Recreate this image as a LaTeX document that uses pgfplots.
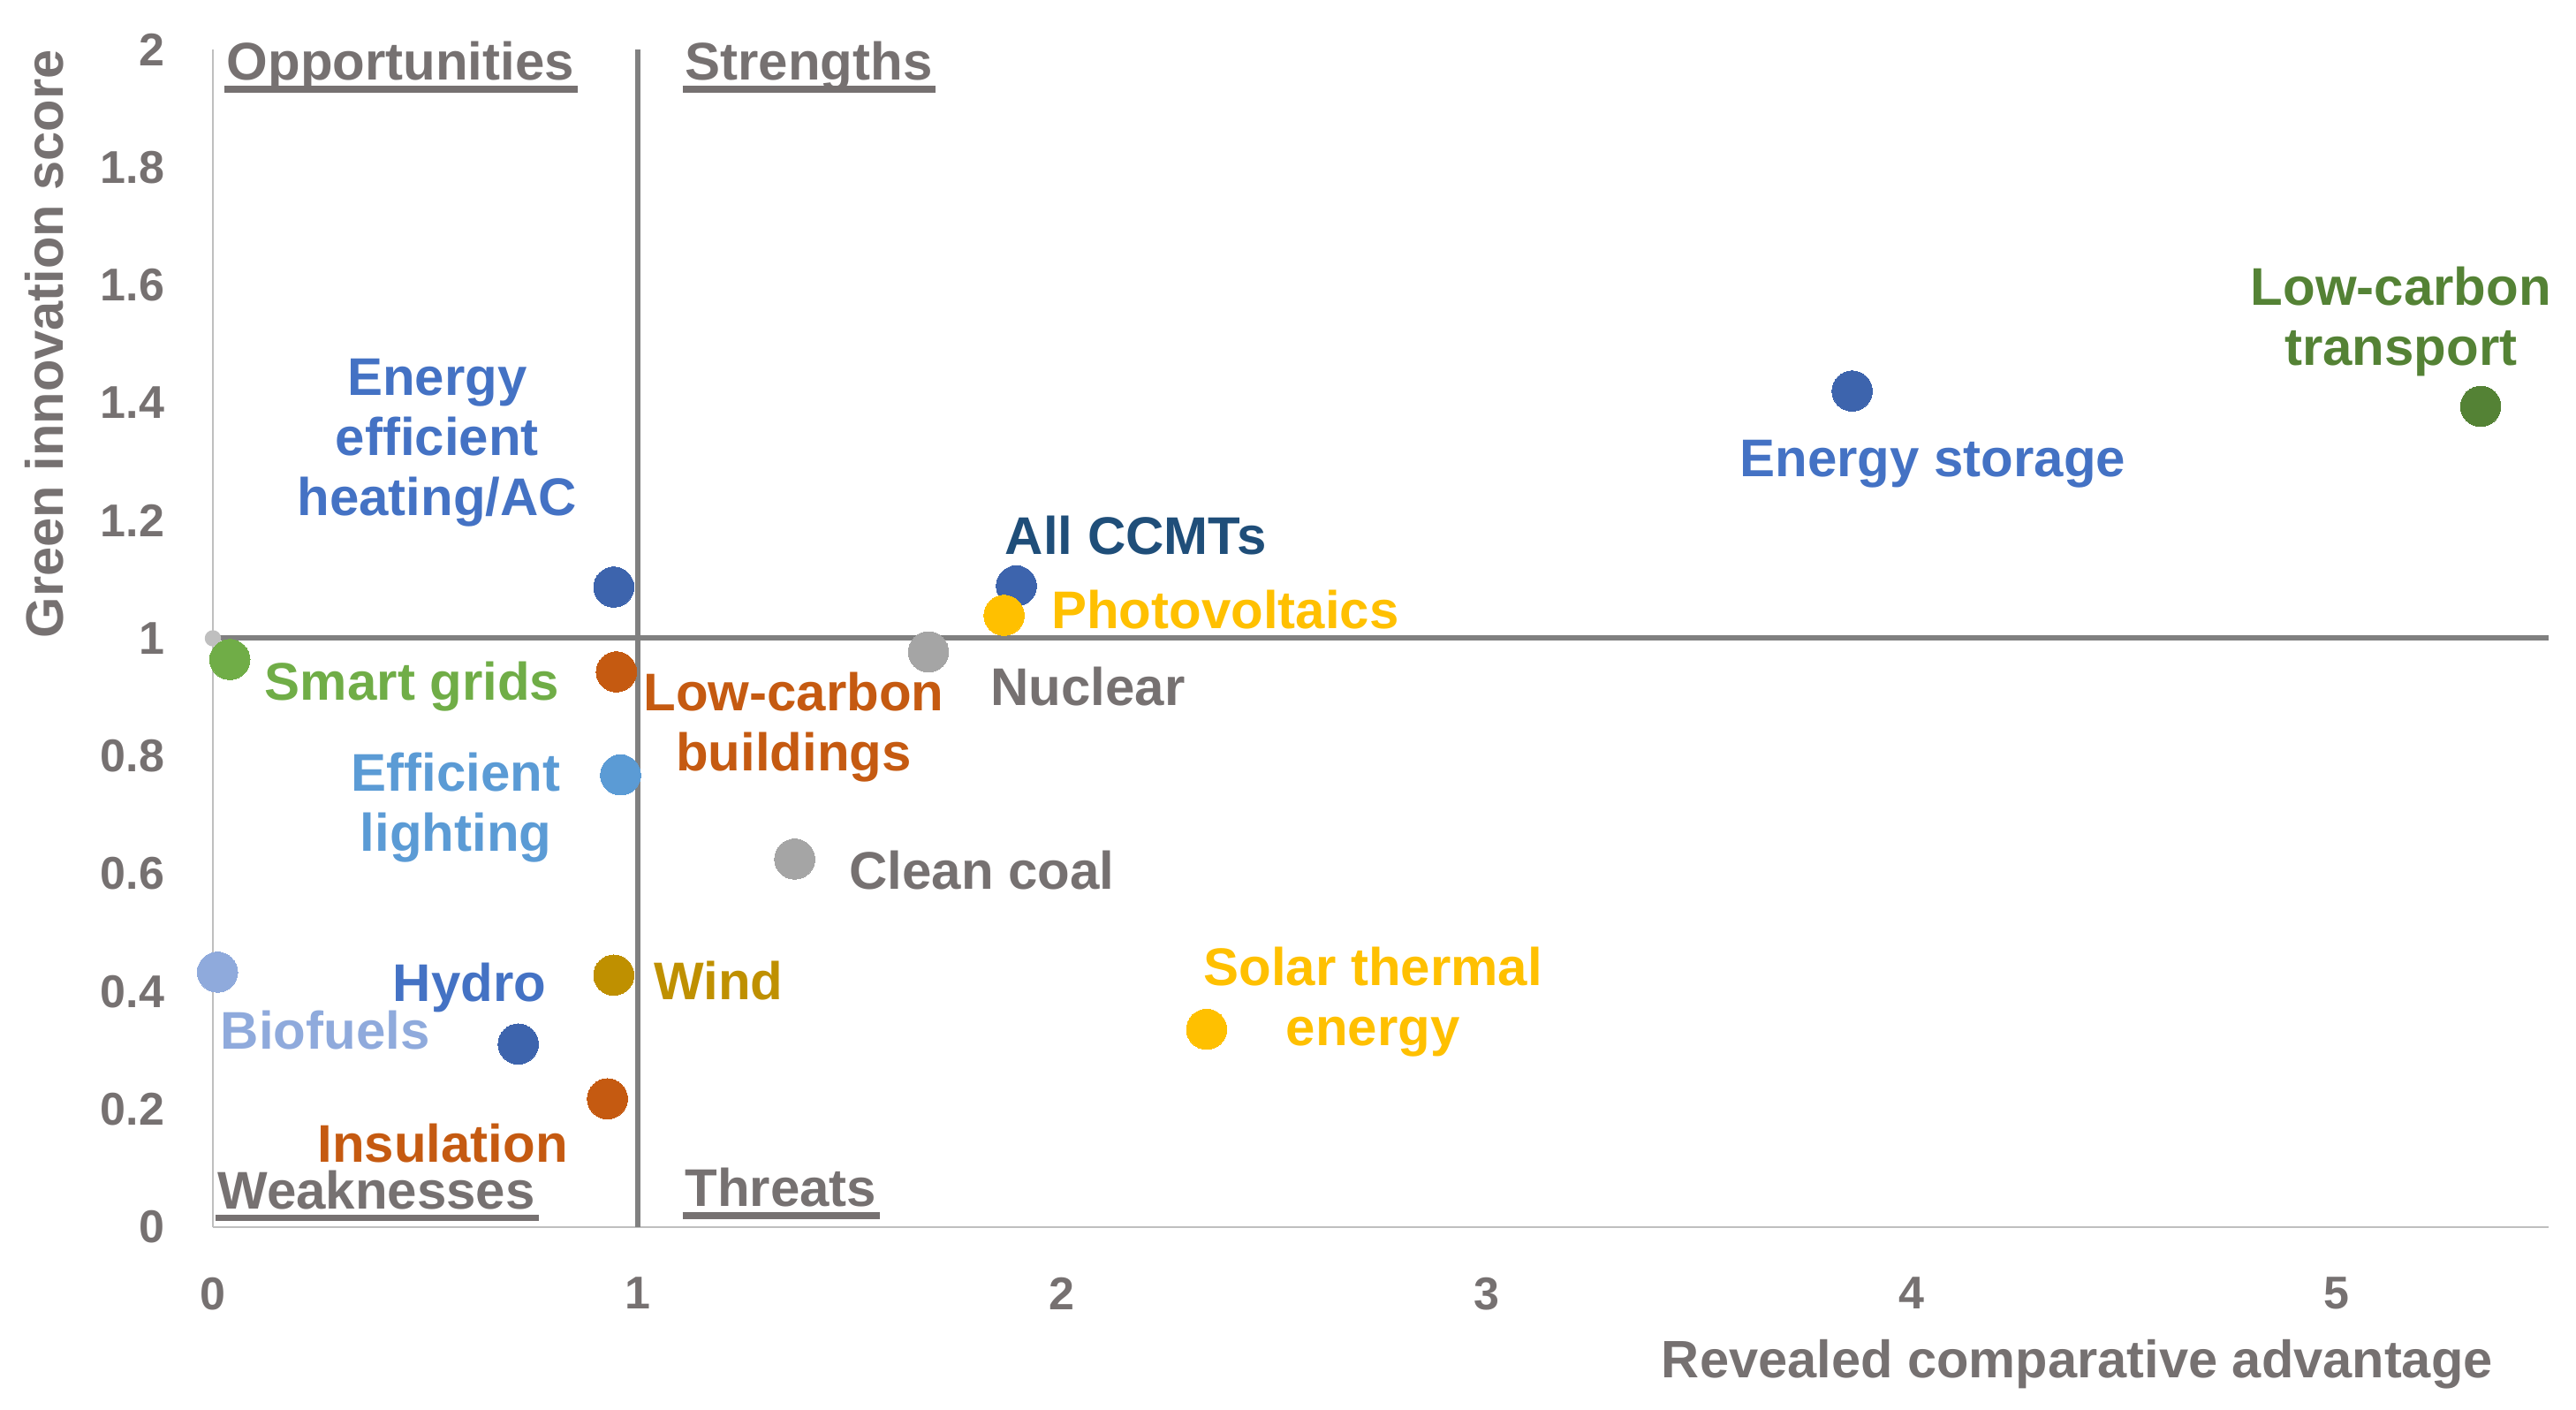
\documentclass[border=0pt]{standalone}
\usepackage{pgfplots}
\pgfplotsset{compat=1.18}
\usepackage{fontspec}
\setmainfont{Liberation Sans}
\definecolor{tickgrey}{HTML}{767171}
\definecolor{axisgrey}{HTML}{BFBFBF}
\definecolor{linegrey}{HTML}{808080}
\definecolor{dotblue}{HTML}{3D64AD}
\definecolor{lblblue}{HTML}{4472C4}
\definecolor{navy}{HTML}{1F4E79}
\definecolor{dkgreen}{HTML}{548235}
\definecolor{ltgreen}{HTML}{70AD47}
\definecolor{orng}{HTML}{C55A11}
\definecolor{gry}{HTML}{A5A5A5}
\definecolor{skyblue}{HTML}{5B9BD5}
\definecolor{paleblue}{HTML}{8FAADC}
\definecolor{gold}{HTML}{BF9000}
\definecolor{yell}{HTML}{FFC000}
\newcommand{\lbl}{\bfseries\fontsize{15}{17}\selectfont}
\tikzset{lb/.style={inner sep=0pt, font=\lbl}}
\pgfplotsset{dot/.style={only marks, mark=*, mark size=5.7pt, color=#1, mark options={draw=#1, fill=#1, line width=0pt}}}
\begin{document}
\begin{tikzpicture}
\begin{axis}[
  scale only axis,
  width=661pt, height=333.25pt,
  xmin=0, xmax=5.5, ymin=0, ymax=2,
  axis x line=bottom, axis y line=left,
  axis line style={-, draw=axisgrey, line width=0.7pt},
  xtick={0,1,2,3,4,5},
  ytick={0,0.2,0.4,0.6,0.8,1,1.2,1.4,1.6,1.8,2},
  yticklabels={0,0.2,0.4,0.6,0.8,1,1.2,1.4,1.6,1.8,2},
  major tick length=0pt,
  /pgf/number format/assume math mode=true,
  tick label style={font=\bfseries\fontsize{13}{15}\selectfont, text=tickgrey, inner sep=0pt},
  yticklabel style={xshift=-13.5pt},
  xticklabel style={yshift=-14pt},
  clip=false,
]
% quadrant lines
\addplot[linegrey, line width=1.5pt] coordinates {(1,0) (1,2)};
\addplot[linegrey, line width=1.5pt] coordinates {(0,1) (5.5,1)};
\addplot[only marks, mark=*, mark size=2.1pt, color=axisgrey] coordinates {(0,1)};
% data
\addplot[dot=dotblue] coordinates {(0.944,1.087) (1.892,1.089) (3.86,1.42) (0.719,0.311)};
\addplot[dot=dkgreen] coordinates {(5.34,1.394)};
\addplot[dot=ltgreen] coordinates {(0.04,0.964)};
\addplot[dot=orng] coordinates {(0.95,0.943) (0.929,0.218)};
\addplot[dot=gry] coordinates {(1.685,0.977) (1.37,0.625)};
\addplot[dot=skyblue] coordinates {(0.96,0.768)};
\addplot[dot=paleblue] coordinates {(0.011,0.433)};
\addplot[dot=gold] coordinates {(0.944,0.428)};
\addplot[dot=yell] coordinates {(1.863,1.039) (2.34,0.336)};
% data labels
\node[lb, lblblue, align=center] at (axis cs:0.528,1.332) {Energy\\efficient\\heating/AC};
\node[lb, navy] at (axis cs:2.173,1.175) {All CCMTs};
\node[lb, yell, anchor=west] at (axis cs:1.973,1.049) {Photovoltaics};
\node[lb, tickgrey, anchor=west] at (axis cs:1.830,0.918) {Nuclear};
\node[lb, ltgreen, anchor=west] at (axis cs:0.121,0.918) {Smart grids};
\node[lb, orng, align=center] at (axis cs:1.368,0.849) {Low-carbon\\buildings};
\node[lb, skyblue, align=center] at (axis cs:0.572,0.713) {Efficient\\lighting};
\node[lb, tickgrey, anchor=west] at (axis cs:1.497,0.606) {Clean coal};
\node[lb, lblblue, anchor=east] at (axis cs:0.786,0.407) {Hydro};
\node[lb, paleblue, anchor=west] at (axis cs:0.017,0.335) {Biofuels};
\node[lb, gold, anchor=west] at (axis cs:1.037,0.419) {Wind};
\node[lb, yell, align=center] at (axis cs:2.732,0.383) {Solar thermal\\energy};
\node[lb, orng] at (axis cs:0.541,0.143) {Insulation};
\node[lb, lblblue] at (axis cs:4.050,1.296) {Energy storage};
\node[lb, dkgreen, align=center] at (axis cs:5.152,1.538) {Low-carbon\\transport};
% quadrant labels
\node[lb, tickgrey, anchor=base west] (opp) at (axis cs:0.031,1.948) {Opportunities};
\node[lb, tickgrey, anchor=base west] (str) at (axis cs:1.110,1.948) {Strengths};
\node[lb, tickgrey, anchor=base west] (wea) at (axis cs:0.010,0.031) {Weaknesses};
\node[lb, tickgrey, anchor=base west] (thr) at (axis cs:1.110,0.035) {Threats};
\draw[tickgrey, line width=1.8pt] ([xshift=-0.5pt,yshift=-2.6pt]opp.base west) -- ([xshift=0.8pt,yshift=-2.6pt]opp.base east);
\draw[tickgrey, line width=1.8pt] ([xshift=-0.5pt,yshift=-2.6pt]str.base west) -- ([xshift=0.8pt,yshift=-2.6pt]str.base east);
\draw[tickgrey, line width=1.8pt] ([xshift=-0.5pt,yshift=-2.6pt]wea.base west) -- ([xshift=0.8pt,yshift=-2.6pt]wea.base east);
\draw[tickgrey, line width=1.8pt] ([xshift=-0.5pt,yshift=-2.6pt]thr.base west) -- ([xshift=0.8pt,yshift=-2.6pt]thr.base east);
% axis titles
\node[tickgrey, font=\bfseries\fontsize{14.9}{17}\selectfont, rotate=90] at (axis cs:-0.397,1.5) {Green innovation score};
\node[tickgrey, font=\bfseries\fontsize{14.9}{17}\selectfont] at (axis cs:4.39,-0.2326) {Revealed comparative advantage};
\end{axis}
\pgfresetboundingbox
\path (-60.25pt,-51.75pt) rectangle (668.75pt,347.25pt);
\end{tikzpicture}
\end{document}
